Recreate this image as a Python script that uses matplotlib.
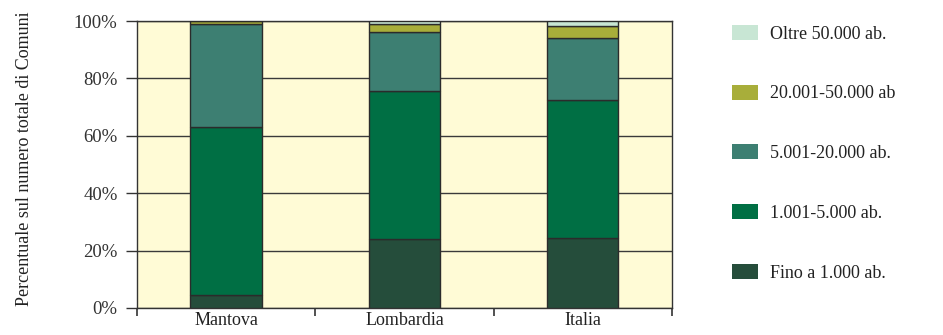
import matplotlib as mpl
mpl.use('Agg')
import matplotlib.pyplot as plt
from matplotlib.patches import Patch
import numpy as np

# categories and percentage shares per population class (bottom to top)
areas = ["Mantova", "Lombardia", "Italia"]
classes = ["Fino a 1.000 ab.", "1.001-5.000 ab.", "5.001-20.000 ab.",
           "20.001-50.000 ab", "Oltre 50.000 ab."]
fino_1000 = [4.5, 23.9, 24.3]
da_1001_5000 = [58.5, 51.7, 48.2]
da_5001_20000 = [36.0, 20.6, 21.5]
da_20001_50000 = [1.0, 2.6, 4.3]
oltre_50000 = [0.0, 1.2, 1.7]
y_ticks = [0, 20, 40, 60, 80, 100]

colors = ["#254d3b", "#006f44", "#3d7f72", "#a8ae3a", "#c8e6d4"]
series = [fino_1000, da_1001_5000, da_5001_20000, da_20001_50000, oltre_50000]

plt.rcParams['font.family'] = ['Liberation Serif', 'DejaVu Serif']

fig = plt.figure(figsize=(9.43, 3.35), dpi=100)
ax = fig.add_axes([137 / 943, 27 / 335, 535 / 943, 287 / 335])
ax.set_facecolor("#fffbd6")

x = np.arange(len(areas))
bottom = np.zeros(len(areas))
for vals, col in zip(series, colors):
    ax.bar(x, vals, width=0.4, bottom=bottom, color=col,
           edgecolor="#2b2b2b", linewidth=1.0, zorder=3)
    bottom += np.array(vals)

ax.set_xlim(-0.5, len(areas) - 0.5)
ax.set_ylim(0, 100)
ax.set_yticks(y_ticks)
ax.set_yticklabels([f"{v}%" for v in y_ticks], fontsize=13.5, color="#333333")
ax.yaxis.grid(True, color="#3a3a3a", linewidth=1.0, zorder=0)
ax.set_axisbelow(True)

# category boundaries as ticks, names in the middle
ax.set_xticks(np.arange(len(areas) + 1) - 0.5)
ax.set_xticklabels([])
ax.set_xticks(x, minor=True)
ax.set_xticklabels(areas, minor=True, fontsize=13, color="#222222")
ax.tick_params(axis='x', which='minor', length=0, pad=3)
ax.tick_params(axis='x', which='major', length=6, width=1.2, color="#333333")
ax.tick_params(axis='y', length=8, width=1.0, color="#333333", pad=6)

for s in ax.spines.values():
    s.set_color("#333333")
    s.set_linewidth(1.0)

ax.set_ylabel("Percentuale sul numero totale di Comuni", fontsize=13,
              color="#222222")
ax.yaxis.set_label_coords(-0.195, 0.52)

handles = [Patch(facecolor=c, edgecolor='none') for c in colors][::-1]
fig.legend(handles, classes[::-1], loc='upper left',
           bbox_to_anchor=(732 / 943, 1 - 25 / 335), frameon=False,
           fontsize=13, borderpad=0, borderaxespad=0, labelspacing=2.33,
           handlelength=1.44, handleheight=0.89, handletextpad=0.66,
           labelcolor="#222222")

fig.savefig("out.png", dpi=100, facecolor="white")
